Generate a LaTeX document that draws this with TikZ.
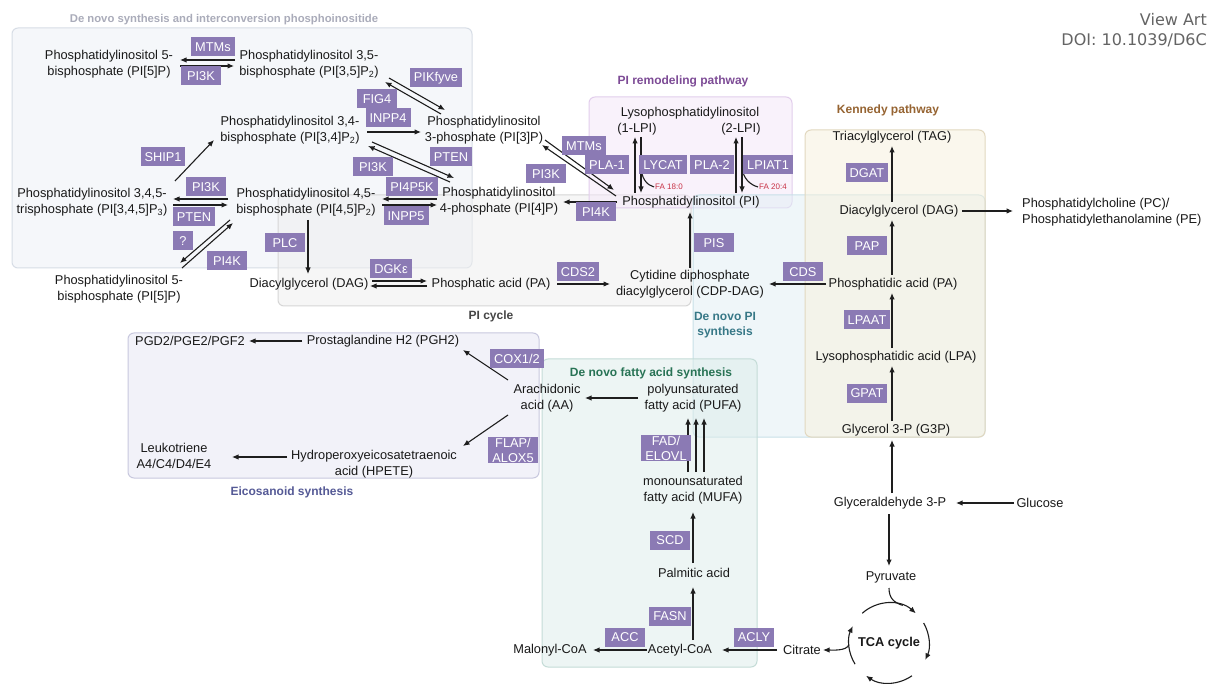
\documentclass[tikz,border=0pt]{standalone}
\usepackage{fontspec}
\setmainfont{Liberation Sans}
\newfontfamily\doifont{DejaVu Sans}
\usepackage{tikz}
\usetikzlibrary{arrows.meta}

\definecolor{enzc}{RGB}{139,122,180}
\definecolor{arrc}{RGB}{30,30,30}
\definecolor{metc}{RGB}{25,25,25}
\definecolor{fac}{RGB}{200,50,70}
\definecolor{doic}{RGB}{100,100,100}
% pathway boxes (border / fill)
\definecolor{bxpi}{RGB}{215,221,230}   \definecolor{bxpif}{RGB}{237,241,247}
\definecolor{bxcyc}{RGB}{214,214,214}  \definecolor{bxcycf}{RGB}{239,239,239}
\definecolor{bxrem}{RGB}{226,206,236}  \definecolor{bxremf}{RGB}{245,231,249}
\definecolor{bxdn}{RGB}{200,224,232}   \definecolor{bxdnf}{RGB}{225,239,245}
\definecolor{bxken}{RGB}{226,216,192}  \definecolor{bxkenf}{RGB}{247,241,221}
\definecolor{bxeic}{RGB}{200,200,222}  \definecolor{bxeicf}{RGB}{231,231,245}
\definecolor{bxfa}{RGB}{196,220,215}   \definecolor{bxfaf}{RGB}{221,237,235}
% titles
\definecolor{ctpi}{RGB}{170,172,186}
\definecolor{ctrem}{RGB}{125,75,150}
\definecolor{ctken}{RGB}{150,100,50}
\definecolor{ctcyc}{RGB}{70,70,70}
\definecolor{ctdn}{RGB}{55,120,135}
\definecolor{ctfa}{RGB}{40,115,85}
\definecolor{cteic}{RGB}{85,90,150}

\tikzset{
  met/.style={align=center, inner sep=1pt, text=metc, font=\fontsize{12.8}{15.5}\selectfont},
  enz/.style={fill=enzc, text=white, align=center, inner xsep=4pt, inner ysep=1pt,
    minimum width=40pt, minimum height=19pt, font=\fontsize{12.8}{15}\selectfont},
  grp/.style={rounded corners=6pt, line width=1pt, fill opacity=.5},
  ttl/.style={align=center, inner sep=1pt, font=\bfseries\fontsize{12}{15}\selectfont},
  arr/.style={-{Latex[length=6.5pt,width=5.5pt]}, line width=1.1pt, draw=arrc},
  fa/.style={inner sep=1pt, text=fac, font=\fontsize{8}{9}\selectfont},
}

\begin{document}
\begin{tikzpicture}[x=1pt,y=-1pt]
\useasboundingbox (0,0) rectangle (1207,684);
\fill[white] (0,0) rectangle (1207,684);

% pathway boxes
\draw[grp, draw=bxpi, fill=bxpif] (12,28) rectangle (472,268);
\draw[grp, draw=bxcyc, fill=bxcycf] (278,195) rectangle (691,306);
\draw[grp, draw=bxrem, fill=bxremf] (589,97) rectangle (792,208);
\draw[grp, draw=bxdn, fill=bxdnf] (693,195) rectangle (985,437);
\draw[grp, draw=bxken, fill=bxkenf] (805,130) rectangle (985,437);
\draw[grp, draw=bxeic, fill=bxeicf] (128,333) rectangle (539,478);
\draw[grp, draw=bxfa, fill=bxfaf] (542,359) rectangle (757,667);

% titles
\node[ttl, text=ctpi, font=\bfseries\fontsize{11.3}{14}\selectfont] (tpi) at (224,20) {De novo synthesis and interconversion phosphoinositide};
\node[ttl, text=ctrem] (trem) at (683,81) {PI remodeling pathway};
\node[ttl, text=ctken] (tken) at (888,110) {Kennedy pathway};
\node[ttl, text=ctcyc] (tcyc) at (491,316) {PI cycle};
\node[ttl, text=ctdn] (tdn) at (725,325) {De novo PI\\synthesis};
\node[ttl, text=ctfa] (tfa) at (651,373) {De novo fatty acid synthesis};
\node[ttl, text=cteic] (teic) at (292,492) {Eicosanoid synthesis};
\node[anchor=east, inner sep=0pt, text=doic, font=\doifont\fontsize{16}{18}\selectfont] (view) at (1207,20) {View Art};
\node[anchor=east, inner sep=0pt, text=doic, font=\doifont\fontsize{16}{18}\selectfont] (doi) at (1207,40) {DOI: 10.1039/D6C};

% phosphoinositides
\node[met] (pi5a) at (109,64) {Phosphatidylinositol 5-\\bisphosphate (PI[5]P)};
\node[met] (pi35) at (309,64) {Phosphatidylinositol 3,5-\\bisphosphate (PI[3,5]P\textsubscript{2})};
\node[met] (pi34) at (290,130) {Phosphatidylinositol 3,4-\\bisphosphate (PI[3,4]P\textsubscript{2})};
\node[met] (pi3p) at (484,130) {Phosphatidylinositol\\3-phosphate (PI[3]P)};
\node[met] (pi345) at (92,202) {Phosphatidylinositol 3,4,5-\\trisphosphate (PI[3,4,5]P\textsubscript{3})};
\node[met] (pi45) at (306,202) {Phosphatidylinositol 4,5-\\bisphosphate (PI[4,5]P\textsubscript{2})};
\node[met] (pi4p) at (499,201) {Phosphatidylinositol\\4-phosphate (PI[4]P)};
\node[met] (pi5b) at (119,289) {Phosphatidylinositol 5-\\bisphosphate (PI[5]P)};

% PI cycle and remodeling
\node[met] (dagc) at (309,284) {Diacylglycerol (DAG)};
\node[met] (pac) at (491,284) {Phosphatic acid (PA)};
\node[met] (cdp) at (690,284) {Cytidine diphosphate\\diacylglycerol (CDP-DAG)};
\node[met] (lpi) at (690,113) {Lysophosphatidylinositol};
\node[met] (lpia) at (637,129) {(1-LPI)};
\node[met] (lpib) at (741,129) {(2-LPI)};
\node[met] (pi) at (691,202) {Phosphatidylinositol (PI)};
\node[fa] (fa18) at (669,187) {FA 18:0};
\node[fa] (fa204) at (773,187) {FA 20:4};

% Kennedy pathway and glycolysis
\node[met] (tag) at (892,137) {Triacylglycerol (TAG)};
\node[met] (dagk) at (899,211) {Diacylglycerol (DAG)};
\node[met, align=left, anchor=west] (pcpe) at (1021,212) {Phosphatidylcholine (PC)/\\Phosphatidylethanolamine (PE)};
\node[met] (pak) at (893,284) {Phosphatidic acid (PA)};
\node[met] (lpa) at (896,357) {Lysophosphatidic acid (LPA)};
\node[met] (g3p) at (896,430) {Glycerol 3-P (G3P)};
\node[met] (gap) at (890,503) {Glyceraldehyde 3-P};
\node[met] (glc) at (1040,503) {Glucose};
\node[met] (pyr) at (891,577) {Pyruvate};
\node[met, font=\bfseries\fontsize{12.8}{15.5}\selectfont] (tca) at (889,643) {TCA cycle};
\node[met] (cit) at (802,650) {Citrate};

% fatty acids and eicosanoids
\node[met] (pufa) at (693,398) {polyunsaturated\\fatty acid (PUFA)};
\node[met] (aa) at (547,398) {Arachidonic\\acid (AA)};
\node[met] (mufa) at (693,490) {monounsaturated\\fatty acid (MUFA)};
\node[met] (palm) at (694,573) {Palmitic acid};
\node[met] (acoa) at (680,650) {Acetyl-CoA};
\node[met] (mcoa) at (550,650) {Malonyl-CoA};
\node[met] (pgd) at (190,341) {PGD2/PGE2/PGF2};
\node[met] (pgh) at (383,341) {Prostaglandine H2 (PGH2)};
\node[met] (hpete) at (374,464) {Hydroperoxyeicosatetraenoic\\acid (HPETE)};
\node[met] (leuk) at (174,456) {Leukotriene\\A4/C4/D4/E4};

% interconversion arrows
\draw[arr] ([shift={(-74,-4)}]pi35.center) -- ([shift={(71,-4)}]pi5a.center);
\draw[arr] ([shift={(71,2)}]pi5a.center) -- ([shift={(-75,2)}]pi35.center);
\draw[arr] ([shift={(80,14)}]pi35.center) -- ([shift={(-39,-20)}]pi3p.center);
\draw[arr] ([shift={(-43,-16)}]pi3p.center) -- ([shift={(76,18)}]pi35.center);
\draw[arr] ([shift={(77,2)}]pi34.center) -- ([shift={(-63,2)}]pi3p.center);
\draw[arr] ([shift={(82,12)}]pi34.center) -- ([shift={(-45,-23)}]pi4p.center);
\draw[arr] ([shift={(-49,-19)}]pi4p.center) -- ([shift={(78,16)}]pi34.center);
\draw[arr] ([shift={(83,-21)}]pi345.center) -- ([shift={(-76,10)}]pi34.center);
\draw[arr] ([shift={(-78,-3)}]pi45.center) -- ([shift={(81,-3)}]pi345.center);
\draw[arr] ([shift={(81,3)}]pi345.center) -- ([shift={(-78,3)}]pi45.center);
\draw[arr] ([shift={(-62,-2)}]pi4p.center) -- ([shift={(76,-3)}]pi45.center);
\draw[arr] ([shift={(76,3)}]pi45.center) -- ([shift={(-62,4)}]pi4p.center);
\draw[arr] ([shift={(-76,18)}]pi45.center) -- ([shift={(61,-26)}]pi5b.center);
\draw[arr] ([shift={(63,-21)}]pi5b.center) -- ([shift={(-73,21)}]pi45.center);

% PI cycle
\draw[arr] ([shift={(2,18)}]pi45.center) -- ([shift={(-1,-10)}]dagc.center);
\draw[arr] ([shift={(63,-3)}]dagc.center) -- ([shift={(-64,-3)}]pac.center);
\draw[arr] ([shift={(-64,2)}]pac.center) -- ([shift={(61,2)}]dagc.center);
\draw[arr] ([shift={(66,0)}]pac.center) -- ([shift={(-80,0)}]cdp.center);
\draw[arr] ([shift={(0,-16)}]cdp.center) -- ([shift={(-1,10)}]pi.center);
\draw[arr] ([shift={(-67,0)}]pak.center) -- ([shift={(79,0)}]cdp.center);
\draw[arr] ([shift={(-74,0)}]pi.center) -- ([shift={(64,1)}]pi4p.center);
\draw[arr] ([shift={(61,10)}]pi3p.center) -- ([shift={(-77,-12)}]pi.center);
\draw[arr] ([shift={(-75,-6)}]pi.center) -- ([shift={(58,15)}]pi3p.center);

% remodeling
\draw[arr] ([shift={(-56,-9)}]pi.center) -- ([shift={(-2,8)}]lpia.center);
\draw[arr] ([shift={(4,8)}]lpia.center) -- ([shift={(-50,-9)}]pi.center);
\draw[line width=1.1pt, draw=arrc] ([shift={(4,36)}]lpia.center) .. controls +(0,14) and +(-7,-2) .. (fa18.west);
\draw[arr] ([shift={(45,-9)}]pi.center) -- ([shift={(-5,8)}]lpib.center);
\draw[arr] ([shift={(1,8)}]lpib.center) -- ([shift={(51,-9)}]pi.center);
\draw[line width=1.1pt, draw=arrc] ([shift={(1,36)}]lpib.center) .. controls +(0,14) and +(-7,-2) .. (fa204.west);

% Kennedy pathway
\draw[arr] ([shift={(-7,-9)}]dagk.center) -- ([shift={(0,9)}]tag.center);
\draw[arr] ([shift={(-1,-9)}]pak.center) -- ([shift={(-7,9)}]dagk.center);
\draw[arr] ([shift={(-4,-9)}]lpa.center) -- ([shift={(-1,9)}]pak.center);
\draw[arr] ([shift={(-4,-9)}]g3p.center) -- ([shift={(-4,9)}]lpa.center);
\draw[arr] ([shift={(2,-10)}]gap.center) -- ([shift={(-4,10)}]g3p.center);
\draw[arr] ([shift={(-26,0)}]glc.center) -- ([shift={(66,0)}]gap.center);
\draw[arr] ([shift={(-1,11)}]gap.center) -- ([shift={(-2,-11)}]pyr.center);
\draw[arr] ([shift={(63,0)}]dagk.center) -- ([shift={(-8,-1)}]pcpe.west);

% TCA cycle
\draw[arr] ([shift={(228:40)}]tca.center) arc[start angle=228, end angle=312, radius=40];
\draw[arr] ([shift={(330:40)}]tca.center) arc[start angle=330, end angle=385, radius=40];
\draw[arr] ([shift={(55:40)}]tca.center) arc[start angle=55, end angle=125, radius=40];
\draw[arr] ([shift={(148:40)}]tca.center) arc[start angle=148, end angle=205, radius=40];
\draw[line width=1.1pt, draw=arrc] ([shift={(-2,11)}]pyr.center) .. controls +(0,10) and +(-9,-3) .. ([shift={(290:40)}]tca.center);
\draw[arr] ([shift={(178:40)}]tca.center) .. controls +(-2,7) and +(8,0) .. ([shift={(21,0)}]cit.center);

% fatty acid synthesis
\draw[arr] ([shift={(-55,0)}]pufa.center) -- ([shift={(38,0)}]aa.center);
\foreach \dx in {-5,3,11}
  \draw[arr] ([shift={(\dx,-18)}]mufa.center) -- ([shift={(\dx,20)}]pufa.center);
\draw[arr] ([shift={(-1,-10)}]palm.center) -- ([shift={(0,22)}]mufa.center);
\draw[arr] ([shift={(13,-10)}]acoa.center) -- ([shift={(-1,14)}]palm.center);
\draw[arr] ([shift={(-33,0)}]acoa.center) -- ([shift={(43,0)}]mcoa.center);
\draw[arr] ([shift={(-25,0)}]cit.center) -- ([shift={(42,0)}]acoa.center);

% eicosanoids
\draw[arr] ([shift={(-81,0)}]pgh.center) -- ([shift={(59,0)}]pgd.center);
\draw[arr] ([shift={(-39,-18)}]aa.center) -- ([shift={(80,9)}]pgh.center);
\draw[arr] ([shift={(-39,17)}]aa.center) -- ([shift={(89,-18)}]hpete.center);
\draw[arr] ([shift={(-87,-7)}]hpete.center) -- ([shift={(58,1)}]leuk.center);

% enzymes
\node[enz] (mtms1) at (213,47) {MTMs};
\node[enz] (pi3k1) at (201,76) {PI3K};
\node[enz] (pikf) at (436,78) {PIKfyve};
\node[enz] (fig4) at (377,99) {FIG4};
\node[enz] (inpp4) at (388,118) {INPP4};
\node[enz] (ship1) at (163,157) {SHIP1};
\node[enz] (pten1) at (451,157) {PTEN};
\node[enz] (pi3k2) at (373,167) {PI3K};
\node[enz] (pi3k3) at (206,187) {PI3K};
\node[enz] (pten2) at (194,217) {PTEN};
\node[enz] (pi4p5k) at (412,187) {PI4P5K};
\node[enz] (inpp5) at (406,216) {INPP5};
\node[enz, minimum width=20pt] (unk) at (183,241) {?};
\node[enz] (pi4k1) at (227,261) {PI4K};
\node[enz] (plc) at (285,243) {PLC};
\node[enz] (dgke) at (391,269) {DGKε};
\node[enz] (cds2) at (578,272) {CDS2};
\node[enz] (pis) at (714,243) {PIS};
\node[enz] (cds) at (803,272) {CDS};
\node[enz] (mtms2) at (584,146) {MTMs};
\node[enz] (pi3k4) at (546,174) {PI3K};
\node[enz] (pi4k2) at (596,212) {PI4K};
\node[enz] (pla1) at (607,165) {PLA-1};
\node[enz] (lycat) at (663,165) {LYCAT};
\node[enz] (pla2) at (712,165) {PLA-2};
\node[enz] (lpiat1) at (768,165) {LPIAT1};
\node[enz] (dgat) at (867,173) {DGAT};
\node[enz] (pap) at (867,246) {PAP};
\node[enz] (lpaat) at (867,320) {LPAAT};
\node[enz] (gpat) at (867,393) {GPAT};
\node[enz] (cox) at (517,359) {COX1/2};
\node[enz] (flap) at (513,450) {FLAP/\\ALOX5};
\node[enz] (fad) at (666,448) {FAD/\\ELOVL};
\node[enz] (scd) at (670,540) {SCD};
\node[enz] (fasn) at (670,616) {FASN};
\node[enz] (acc) at (625,637) {ACC};
\node[enz] (acly) at (754,637) {ACLY};
\end{tikzpicture}
\end{document}
